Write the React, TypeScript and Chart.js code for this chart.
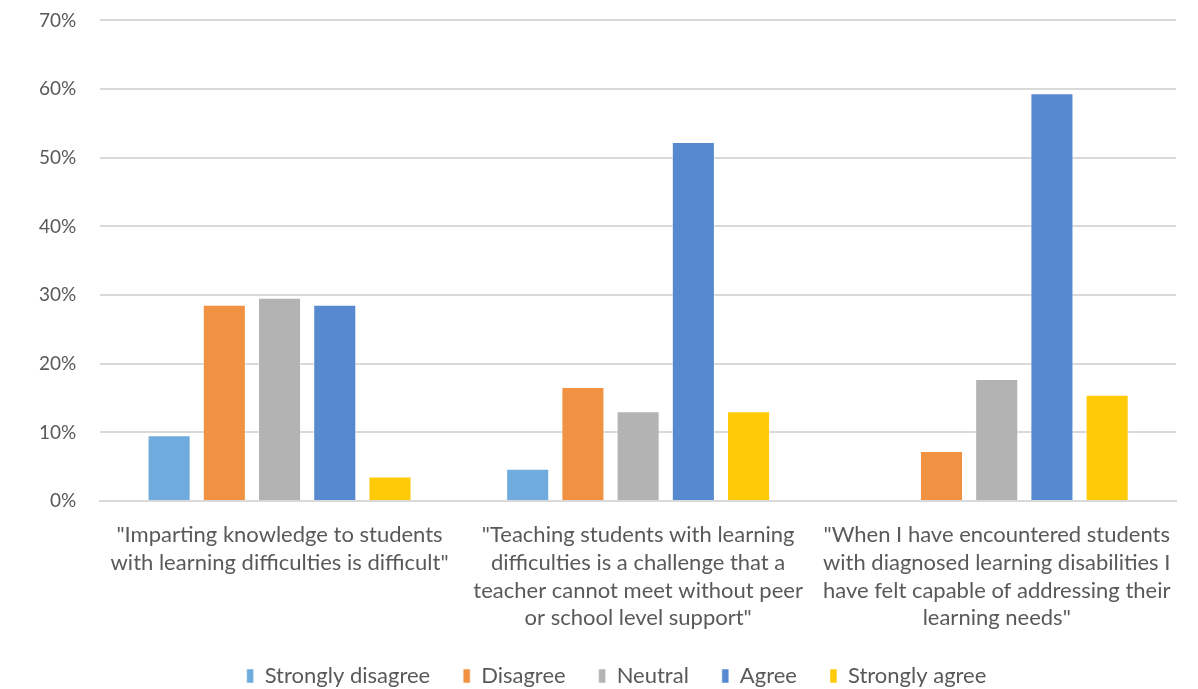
import React, { useEffect, useRef } from "react";
import { Chart, registerables } from "chart.js";

Chart.register(...registerables);

const categories: string[][] = [
  ['"Imparting knowledge to students', 'with learning difficulties is difficult"'],
  ['"Teaching students with learning', 'difficulties is a challenge that a', 'teacher cannot meet without peer', 'or school level support"'],
  ['"When I have encountered students', 'with diagnosed learning disabilities I', 'have felt capable of addressing their', 'learning needs"'],
];

const seriesNames = ["Strongly disagree", "Disagree", "Neutral", "Agree", "Strongly agree"];
const stronglyDisagree = [0.096, 0.047, 0];
const disagree = [0.286, 0.166, 0.073];
const neutral = [0.296, 0.131, 0.178];
const agree = [0.286, 0.523, 0.594];
const stronglyAgree = [0.036, 0.131, 0.155];
const seriesColors = ["#6FACDD", "#F19242", "#B3B3B3", "#5689CF", "#FFCA08"];
const yTicks = [0, 0.1, 0.2, 0.3, 0.4, 0.5, 0.6, 0.7];

const legendShift = {
  id: "legendShift",
  afterLayout(chart: any) {
    if (chart.legend) {
      chart.legend.left += 21;
      chart.legend.right += 21;
    }
  },
};

export default function App() {
  const ref = useRef<HTMLCanvasElement>(null);
  useEffect(() => {
    document.body.style.margin = "0";
    const series = [stronglyDisagree, disagree, neutral, agree, stronglyAgree];
    const chart = new Chart(ref.current!, {
      type: "bar",
      data: {
        labels: categories,
        datasets: series.map((d, i) => ({
          label: seriesNames[i],
          data: d,
          backgroundColor: seriesColors[i],
          borderColor: "rgba(255,255,255,0.5)",
          borderWidth: 1,
          categoryPercentage: 0.77,
          barPercentage: 0.78,
        })),
      },
      plugins: [legendShift],
      options: {
        animation: false,
        responsive: false,
        maintainAspectRatio: false,
        layout: { padding: { left: 15, right: 22, top: 0, bottom: -8 } },
        plugins: {
          tooltip: { enabled: false },
          legend: {
            position: "bottom",
            labels: {
              color: "#595959",
              font: { family: "Lato", size: 22 },
              boxWidth: 7,
              boxHeight: 14,
              padding: 33,
            },
          },
        },
        scales: {
          x: {
            grid: { display: false },
            border: { display: true, color: "#D9D9D9", width: 2 },
            afterFit: (scale: any) => {
              scale.height -= 12;
            },
            ticks: {
              color: "#595959",
              font: { family: "Lato", size: 22, lineHeight: 1.26 },
              padding: 12,
              maxRotation: 0,
              autoSkip: false,
            },
          },
          y: {
            min: 0,
            max: 0.7,
            afterBuildTicks: (axis: any) => {
              axis.ticks = yTicks.map((v) => ({ value: v }));
            },
            grid: { color: "#D9D9D9", lineWidth: 2, drawTicks: false },
            border: { display: false },
            ticks: {
              color: "#595959",
              font: { family: "Lato", size: 19 },
              padding: 24,
              callback: (v: any) => Math.round(Number(v) * 100) + "%",
            },
          },
        },
      },
    });
    return () => chart.destroy();
  }, []);
  return (
    <div style={{ width: 1198, height: 689, overflow: "hidden", background: "#fff" }}>
      <canvas ref={ref} width={1198} height={704} style={{ display: "block", marginTop: -15 }} />
    </div>
  );
}
